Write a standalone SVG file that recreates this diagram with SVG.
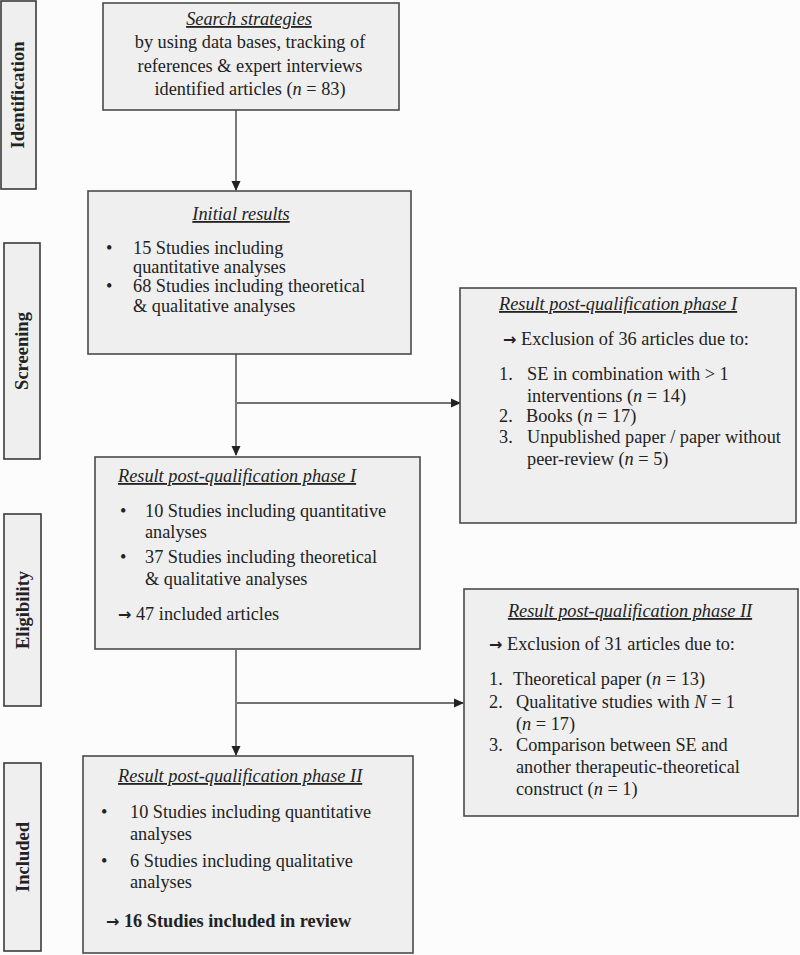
<svg xmlns="http://www.w3.org/2000/svg" width="800" height="955" viewBox="0 0 800 955">
<style>
.box{fill:#efefef;stroke:#4a4a4a;stroke-width:1.6}
.side{fill:#efefef;stroke:#3a3a3a;stroke-width:1.6}
text{font-family:"Liberation Serif","Times New Roman",serif;font-size:18.3px;fill:#222}
.t{font-style:italic;text-decoration:underline}
.lab{font-weight:bold;font-size:18.5px}
.b{font-weight:bold}
.it{font-style:italic}
.ar{font-family:"DejaVu Sans",sans-serif;font-size:16px;font-weight:bold}
.con{stroke:#444;stroke-width:1.4;fill:none}
</style>
<defs>
<marker id="ah" markerWidth="10" markerHeight="10" refX="9" refY="5" orient="auto" markerUnits="userSpaceOnUse">
<path d="M0,0.5 L10,5 L0,9.5 Z" fill="#222"/>
</marker>
</defs>
<rect width="800" height="955" fill="#fcfcfc"/>

<g id="side-identification"><rect class="side" x="1" y="1" width="35" height="188"/><text class="lab" transform="translate(24,95) rotate(-90)" text-anchor="middle">Identification</text></g>
<g id="side-screening"><rect class="side" x="4" y="243" width="36" height="216"/><text class="lab" transform="translate(28,351) rotate(-90)" text-anchor="middle">Screening</text></g>
<g id="side-eligibility"><rect class="side" x="4" y="514" width="37" height="192"/><text class="lab" transform="translate(29,610) rotate(-90)" text-anchor="middle">Eligibility</text></g>
<g id="side-included"><rect class="side" x="4" y="763" width="37" height="188"/><text class="lab" transform="translate(29,857) rotate(-90)" text-anchor="middle">Included</text></g>

<g id="connectors">
<line class="con" x1="236" y1="110" x2="236" y2="190" marker-end="url(#ah)"/>
<line class="con" x1="236" y1="354" x2="236" y2="455" marker-end="url(#ah)"/>
<line class="con" x1="237" y1="403" x2="460" y2="403" marker-end="url(#ah)"/>
<line class="con" x1="236" y1="650" x2="236" y2="755" marker-end="url(#ah)"/>
<line class="con" x1="237" y1="703" x2="463" y2="703" marker-end="url(#ah)"/>
</g>

<g id="n-search">
<rect class="box" x="103" y="3" width="296" height="107"/>
<text class="t" x="249" y="25" text-anchor="middle">Search strategies</text>
<text x="250" y="48" text-anchor="middle">by using data bases, tracking of</text>
<text x="250" y="72" text-anchor="middle">references &amp; expert interviews</text>
<text x="250" y="95" text-anchor="middle">identified articles (<tspan class="it">n</tspan> = 83)</text>
</g>

<g id="n-initial">
<rect class="box" x="88" y="191" width="323" height="163"/>
<text class="t" x="241" y="220" text-anchor="middle">Initial results</text>
<text x="106" y="254">•</text><text x="133" y="254">15 Studies including</text>
<text x="133" y="273">quantitative analyses</text>
<text x="106" y="292">•</text><text x="133" y="292">68 Studies including theoretical</text>
<text x="133" y="312">&amp; qualitative analyses</text>
</g>

<g id="n-excl1">
<rect class="box" x="460" y="288" width="336" height="235"/>
<text class="t" x="499" y="310">Result post-qualification phase I</text>
<text x="503" y="345"><tspan class="ar">→</tspan> Exclusion of 36 articles due to:</text>
<text x="499" y="380">1.</text><text x="527" y="380">SE in combination with &gt; 1</text>
<text x="527" y="402">interventions (<tspan class="it">n</tspan> = 14)</text>
<text x="499" y="422">2.</text><text x="526" y="422">Books (<tspan class="it">n</tspan> = 17)</text>
<text x="499" y="443">3.</text><text x="527" y="443">Unpublished paper / paper without</text>
<text x="527" y="465">peer-review (<tspan class="it">n</tspan> = 5)</text>
</g>

<g id="n-phase1">
<rect class="box" x="95" y="457" width="325" height="192"/>
<text class="t" x="118" y="482">Result post-qualification phase I</text>
<text x="120" y="517">•</text><text x="145" y="517">10 Studies including quantitative</text>
<text x="145" y="538">analyses</text>
<text x="120" y="563">•</text><text x="145" y="563">37 Studies including theoretical</text>
<text x="145" y="585">&amp; qualitative analyses</text>
<text x="118" y="620"><tspan class="ar">→</tspan> 47 included articles</text>
</g>

<g id="n-excl2">
<rect class="box" x="464" y="589" width="334" height="227"/>
<text class="t" x="630" y="617" text-anchor="middle">Result post-qualification phase II</text>
<text x="489" y="650"><tspan class="ar">→</tspan> Exclusion of 31 articles due to:</text>
<text x="489" y="685">1.</text><text x="513" y="685">Theoretical paper (<tspan class="it">n</tspan> = 13)</text>
<text x="489" y="708">2.</text><text x="516" y="708">Qualitative studies with <tspan class="it">N</tspan> = 1</text>
<text x="516" y="730">(<tspan class="it">n</tspan> = 17)</text>
<text x="489" y="751">3.</text><text x="516" y="751">Comparison between SE and</text>
<text x="516" y="773">another therapeutic-theoretical</text>
<text x="516" y="795">construct (<tspan class="it">n</tspan> = 1)</text>
</g>

<g id="n-phase2">
<rect class="box" x="83" y="756" width="330" height="197"/>
<text class="t" x="118" y="782">Result post-qualification phase II</text>
<text x="101" y="818">•</text><text x="130" y="818">10 Studies including quantitative</text>
<text x="130" y="840">analyses</text>
<text x="101" y="867">•</text><text x="130" y="867">6 Studies including qualitative</text>
<text x="130" y="888">analyses</text>
<text class="b" x="106" y="927"><tspan class="ar">→</tspan> 16 Studies included in review</text>
</g>
</svg>
